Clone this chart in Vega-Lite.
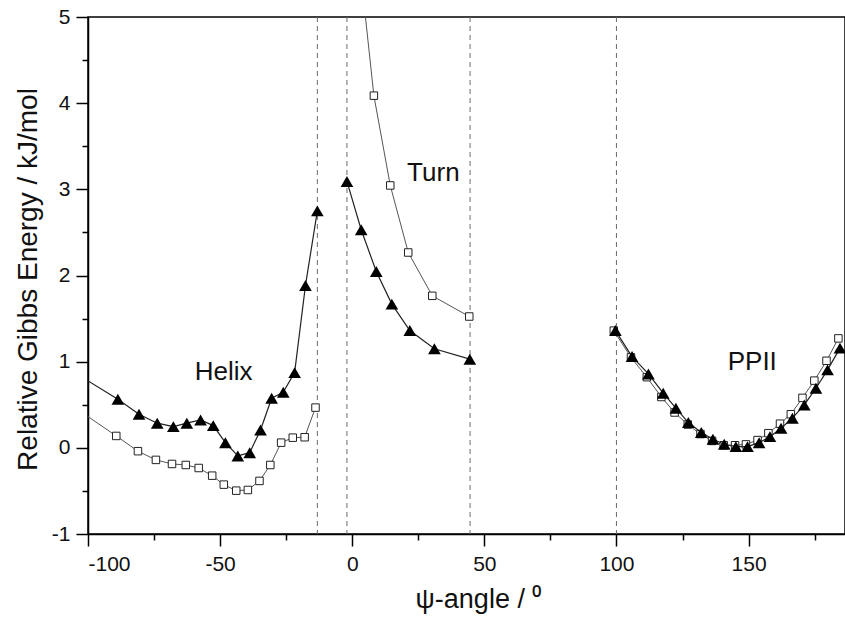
{
  "$schema": "https://vega.github.io/schema/vega-lite/v6.json",
  "width": 757,
  "height": 517,
  "autosize": {"type": "none"},
  "padding": {"left": 88, "top": 17, "right": 0, "bottom": 84},
  "background": "white",
  "config": {
    "view": {"stroke": "black", "strokeWidth": 1.5},
    "font": "Liberation Sans",
    "axis": {"grid": false, "domainColor": "black", "domainWidth": 1.5, "tickColor": "black", "tickWidth": 1.5, "labelColor": "#111", "titleColor": "#111", "labelFont": "Liberation Sans", "titleFont": "Liberation Sans", "titleFontWeight": "normal"}
  },
  "datasets": {
    "curves": [
      {"series": "tri", "seg": "helix", "psi": -105, "G": 0.871},
      {"series": "tri", "seg": "helix", "psi": -88.7, "G": 0.564},
      {"series": "tri", "seg": "helix", "psi": -80.7, "G": 0.39},
      {"series": "tri", "seg": "helix", "psi": -73.8, "G": 0.286},
      {"series": "tri", "seg": "helix", "psi": -67.7, "G": 0.246},
      {"series": "tri", "seg": "helix", "psi": -62.6, "G": 0.286},
      {"series": "tri", "seg": "helix", "psi": -57.4, "G": 0.324},
      {"series": "tri", "seg": "helix", "psi": -52.6, "G": 0.258},
      {"series": "tri", "seg": "helix", "psi": -48.0, "G": 0.06},
      {"series": "tri", "seg": "helix", "psi": -43.3, "G": -0.094},
      {"series": "tri", "seg": "helix", "psi": -38.8, "G": -0.056},
      {"series": "tri", "seg": "helix", "psi": -34.7, "G": 0.208},
      {"series": "tri", "seg": "helix", "psi": -30.5, "G": 0.576},
      {"series": "tri", "seg": "helix", "psi": -26.1, "G": 0.646},
      {"series": "tri", "seg": "helix", "psi": -21.8, "G": 0.873},
      {"series": "tri", "seg": "helix", "psi": -17.7, "G": 1.884},
      {"series": "tri", "seg": "helix", "psi": -13.2, "G": 2.75},
      {"series": "tri", "seg": "turn", "psi": -2.0, "G": 3.092},
      {"series": "tri", "seg": "turn", "psi": 3.4, "G": 2.531},
      {"series": "tri", "seg": "turn", "psi": 9.1, "G": 2.046},
      {"series": "tri", "seg": "turn", "psi": 15.0, "G": 1.668},
      {"series": "tri", "seg": "turn", "psi": 21.8, "G": 1.361},
      {"series": "tri", "seg": "turn", "psi": 31.1, "G": 1.149},
      {"series": "tri", "seg": "turn", "psi": 44.5, "G": 1.029},
      {"series": "tri", "seg": "ppii", "psi": 99.6, "G": 1.361},
      {"series": "tri", "seg": "ppii", "psi": 105.9, "G": 1.059},
      {"series": "tri", "seg": "ppii", "psi": 112.1, "G": 0.858},
      {"series": "tri", "seg": "ppii", "psi": 117.7, "G": 0.634},
      {"series": "tri", "seg": "ppii", "psi": 122.5, "G": 0.46},
      {"series": "tri", "seg": "ppii", "psi": 127.2, "G": 0.293},
      {"series": "tri", "seg": "ppii", "psi": 132.1, "G": 0.177},
      {"series": "tri", "seg": "ppii", "psi": 136.5, "G": 0.1},
      {"series": "tri", "seg": "ppii", "psi": 140.8, "G": 0.042},
      {"series": "tri", "seg": "ppii", "psi": 145.2, "G": 0.014},
      {"series": "tri", "seg": "ppii", "psi": 149.6, "G": 0.014},
      {"series": "tri", "seg": "ppii", "psi": 154.0, "G": 0.06},
      {"series": "tri", "seg": "ppii", "psi": 158.1, "G": 0.13},
      {"series": "tri", "seg": "ppii", "psi": 162.3, "G": 0.228},
      {"series": "tri", "seg": "ppii", "psi": 166.6, "G": 0.344},
      {"series": "tri", "seg": "ppii", "psi": 171.1, "G": 0.498},
      {"series": "tri", "seg": "ppii", "psi": 175.5, "G": 0.692},
      {"series": "tri", "seg": "ppii", "psi": 179.9, "G": 0.905},
      {"series": "tri", "seg": "ppii", "psi": 184.6, "G": 1.157},
      {"series": "sq", "seg": "helix", "psi": -105, "G": 0.467},
      {"series": "sq", "seg": "helix", "psi": -89.3, "G": 0.138},
      {"series": "sq", "seg": "helix", "psi": -81.1, "G": -0.039},
      {"series": "sq", "seg": "helix", "psi": -74.3, "G": -0.14},
      {"series": "sq", "seg": "helix", "psi": -68.2, "G": -0.187},
      {"series": "sq", "seg": "helix", "psi": -63.0, "G": -0.199},
      {"series": "sq", "seg": "helix", "psi": -58.1, "G": -0.234},
      {"series": "sq", "seg": "helix", "psi": -53.0, "G": -0.323},
      {"series": "sq", "seg": "helix", "psi": -48.6, "G": -0.427},
      {"series": "sq", "seg": "helix", "psi": -43.9, "G": -0.497},
      {"series": "sq", "seg": "helix", "psi": -39.5, "G": -0.489},
      {"series": "sq", "seg": "helix", "psi": -35.1, "G": -0.384},
      {"series": "sq", "seg": "helix", "psi": -31.0, "G": -0.199},
      {"series": "sq", "seg": "helix", "psi": -26.9, "G": 0.06},
      {"series": "sq", "seg": "helix", "psi": -22.5, "G": 0.118},
      {"series": "sq", "seg": "helix", "psi": -18.0, "G": 0.123},
      {"series": "sq", "seg": "helix", "psi": -13.9, "G": 0.467},
      {"series": "sq", "seg": "turn", "psi": -2.0, "G": 7.0},
      {"series": "sq", "seg": "turn", "psi": 8.2, "G": 4.087},
      {"series": "sq", "seg": "turn", "psi": 14.4, "G": 3.045},
      {"series": "sq", "seg": "turn", "psi": 21.2, "G": 2.267},
      {"series": "sq", "seg": "turn", "psi": 30.3, "G": 1.764},
      {"series": "sq", "seg": "turn", "psi": 44.3, "G": 1.524},
      {"series": "sq", "seg": "ppii", "psi": 99.0, "G": 1.36},
      {"series": "sq", "seg": "ppii", "psi": 105.5, "G": 1.05},
      {"series": "sq", "seg": "ppii", "psi": 111.5, "G": 0.82},
      {"series": "sq", "seg": "ppii", "psi": 117.0, "G": 0.59},
      {"series": "sq", "seg": "ppii", "psi": 122.0, "G": 0.41},
      {"series": "sq", "seg": "ppii", "psi": 127.0, "G": 0.27},
      {"series": "sq", "seg": "ppii", "psi": 131.8, "G": 0.16},
      {"series": "sq", "seg": "ppii", "psi": 136.2, "G": 0.08},
      {"series": "sq", "seg": "ppii", "psi": 140.6, "G": 0.03},
      {"series": "sq", "seg": "ppii", "psi": 144.9, "G": 0.03},
      {"series": "sq", "seg": "ppii", "psi": 149.0, "G": 0.04},
      {"series": "sq", "seg": "ppii", "psi": 153.4, "G": 0.09},
      {"series": "sq", "seg": "ppii", "psi": 157.5, "G": 0.17},
      {"series": "sq", "seg": "ppii", "psi": 161.9, "G": 0.28},
      {"series": "sq", "seg": "ppii", "psi": 166.0, "G": 0.39},
      {"series": "sq", "seg": "ppii", "psi": 170.4, "G": 0.58},
      {"series": "sq", "seg": "ppii", "psi": 174.9, "G": 0.78},
      {"series": "sq", "seg": "ppii", "psi": 179.5, "G": 1.01},
      {"series": "sq", "seg": "ppii", "psi": 184.0, "G": 1.27}
    ],
    "bounds": [
      {"psi": -13.2},
      {"psi": -2.0},
      {"psi": 44.6},
      {"psi": 100.0}
    ],
    "labels": [
      {"label": "Helix", "psi": -48.7, "G": 0.88},
      {"label": "Turn", "psi": 30.7, "G": 3.19},
      {"label": "PPII", "psi": 151.4, "G": 1.0}
    ]
  },
  "resolve": {"axis": {"x": "independent", "y": "independent"}},
  "layer": [
    {
      "data": {"name": "bounds"},
      "mark": {"type": "rule", "color": "#6a6a6a", "strokeWidth": 1, "strokeDash": [5, 4]},
      "encoding": {
        "x": {"field": "psi", "type": "quantitative", "scale": {"domain": [-100, 186.5], "nice": false, "zero": false}, "axis": null}
      }
    },
    {
      "data": {"name": "curves"},
      "transform": [{"filter": "datum.series == 'sq'"}],
      "mark": {"type": "line", "color": "#555", "strokeWidth": 1, "clip": true},
      "encoding": {
        "x": {"field": "psi", "type": "quantitative", "scale": {"domain": [-100, 186.5], "nice": false, "zero": false},
          "axis": {"orient": "bottom", "values": [-100, -50, 0, 50, 100, 150], "labelExpr": "'' + datum.value", "tickSize": 12, "labelFontSize": 21, "labelPadding": 7, "title": "ψ-angle / ⁰", "titleFontSize": 27, "titleX": 390, "titleY": 73, "titleBaseline": "alphabetic", "titleAlign": "center"}},
        "y": {"field": "G", "type": "quantitative", "scale": {"domain": [-1, 5], "nice": false, "zero": false},
          "axis": {"orient": "left", "values": [-1, 0, 1, 2, 3, 4, 5], "labelExpr": "'' + datum.value", "tickSize": 12, "labelFontSize": 21, "labelPadding": 6, "title": "Relative Gibbs Energy / kJ/mol", "titleFontSize": 28, "titleAngle": -90, "titleX": -52, "titleY": 262, "titleBaseline": "alphabetic", "titleAlign": "center"}},
        "detail": {"field": "seg"},
        "order": {"field": "psi", "type": "quantitative"}
      }
    },
    {
      "data": {"name": "curves"},
      "transform": [{"filter": "datum.series == 'sq'"}],
      "mark": {"type": "point", "shape": "square", "size": 56, "filled": true, "fill": "white", "stroke": "#222", "strokeWidth": 1, "opacity": 1, "clip": true},
      "encoding": {
        "x": {"field": "psi", "type": "quantitative", "axis": null},
        "y": {"field": "G", "type": "quantitative", "axis": null}
      }
    },
    {
      "data": {"name": "curves"},
      "transform": [{"filter": "datum.series == 'tri'"}],
      "mark": {"type": "line", "color": "#222", "strokeWidth": 1.2, "clip": true},
      "encoding": {
        "x": {"field": "psi", "type": "quantitative", "axis": null},
        "y": {"field": "G", "type": "quantitative", "axis": null},
        "detail": {"field": "seg"},
        "order": {"field": "psi", "type": "quantitative"}
      }
    },
    {
      "data": {"name": "curves"},
      "transform": [{"filter": "datum.series == 'tri'"}],
      "mark": {"type": "point", "shape": "triangle-up", "size": 160, "filled": true, "fill": "black", "strokeWidth": 0, "opacity": 1, "clip": true},
      "encoding": {
        "x": {"field": "psi", "type": "quantitative", "axis": null},
        "y": {"field": "G", "type": "quantitative", "axis": null}
      }
    },
    {
      "data": {"name": "labels"},
      "mark": {"type": "text", "fontSize": 26, "font": "Liberation Sans", "color": "#111", "align": "center", "baseline": "middle"},
      "encoding": {
        "text": {"field": "label"},
        "x": {"field": "psi", "type": "quantitative",
          "axis": {"orient": "bottom", "values": [-75, -25, 25, 75, 125, 175], "tickSize": 6, "labels": false, "domain": false, "title": null}},
        "y": {"field": "G", "type": "quantitative",
          "axis": {"orient": "left", "values": [-0.5, 0.5, 1.5, 2.5, 3.5, 4.5], "tickSize": 6, "labels": false, "domain": false, "title": null}}
      }
    }
  ]
}
